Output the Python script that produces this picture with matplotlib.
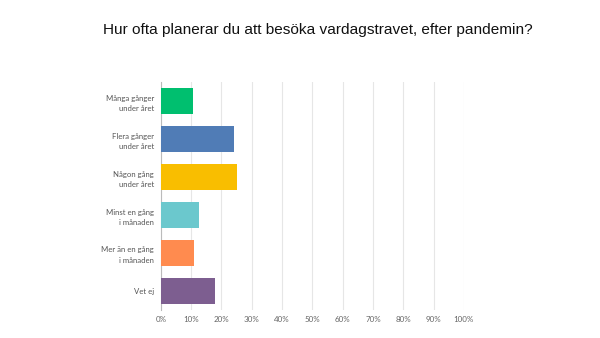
import matplotlib.pyplot as plt

# Svarsalternativ och andel svar (%)
kategorier = ["Många gånger\nunder året", "Flera gånger\nunder året", "Någon gång\nunder året",
              "Minst en gång\ni månaden", "Mer än en gång\ni månaden", "Vet ej"]
andelar = [10.5, 24.1, 25.1, 12.6, 10.8, 17.8]
farger = ["#00BF6F", "#507CB6", "#F9BE00", "#6BC8CD", "#FF8B4F", "#7D5E90"]
xtick_varden = list(range(0, 101, 10))
xtick_etiketter = [f"{v}%" for v in xtick_varden]

fig = plt.figure(figsize=(6, 3.38), dpi=100)
ax = fig.add_axes([0.268, 0.083, 0.505, 0.674])

pos = list(range(len(kategorier)))
ax.barh(pos, andelar, height=0.68, color=farger, zorder=3)
ax.set_ylim(len(kategorier) - 0.5, -0.5)
ax.set_xlim(0, 100)

ax.set_xticks(xtick_varden)
ax.set_xticklabels(xtick_etiketter, fontsize=5.8, color="#666666", family="Lato")
ax.set_yticks(pos)
ax.set_yticklabels(kategorier, fontsize=5.6, color="#555555", family="Lato",
                   ha="right", multialignment="right", linespacing=1.6)
ax.tick_params(length=0, pad=4)
ax.tick_params(axis="y", pad=5)

ax.grid(axis="x", color="#e6e6e6", linewidth=0.8, zorder=0)
for s in ["top", "right", "bottom"]:
    ax.spines[s].set_visible(False)
ax.spines["left"].set_color("#bbbbbb")
ax.spines["left"].set_linewidth(0.8)

fig.text(0.529, 0.91, "Hur ofta planerar du att besöka vardagstravet, efter pandemin?",
         ha="center", va="center", fontsize=11.1, family="Liberation Sans", color="#111111")

fig.savefig("out.png", dpi=100, facecolor="white")
